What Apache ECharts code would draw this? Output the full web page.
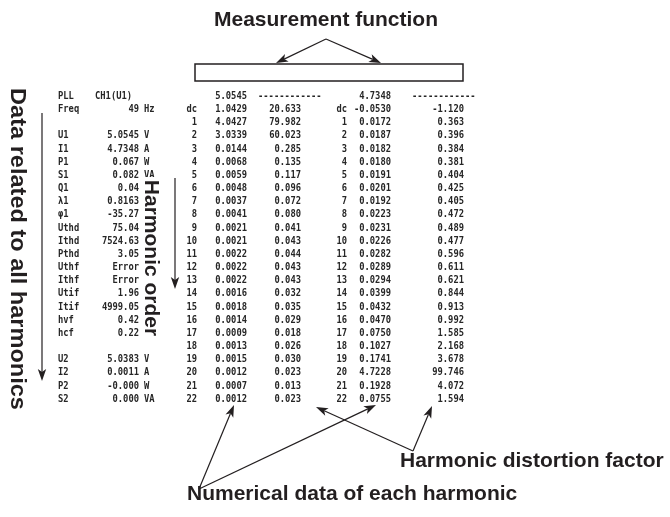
<!DOCTYPE html>
<html>
<head>
<meta charset="utf-8">
<script src="https://cdn.jsdelivr.net/npm/echarts/dist/echarts.min.js"></script>
<style>
html,body{margin:0;padding:0;background:#fff;}
#chart{width:670px;height:517px;}
</style>
</head>
<body>
<div id="chart"></div>
<script>
// ---------- data ----------
var harmonicOrders = ['dc',1,2,3,4,5,6,7,8,9,10,11,12,13,14,15,16,17,18,19,20,21,22];
var voltageValues = [1.0429,4.0427,3.0339,0.0144,0.0068,0.0059,0.0048,0.0037,0.0041,0.0021,0.0021,0.0022,0.0022,0.0022,0.0016,0.0018,0.0014,0.0009,0.0013,0.0015,0.0012,0.0007,0.0012];
var voltageDistortion = [20.633,79.982,60.023,0.285,0.135,0.117,0.096,0.072,0.080,0.041,0.043,0.044,0.043,0.043,0.032,0.035,0.029,0.018,0.026,0.030,0.023,0.013,0.023];
var currentValues = [-0.0530,0.0172,0.0187,0.0182,0.0180,0.0191,0.0201,0.0192,0.0223,0.0231,0.0226,0.0282,0.0289,0.0294,0.0399,0.0432,0.0470,0.0750,0.1027,0.1741,4.7228,0.1928,0.0755];
var currentDistortion = [-1.120,0.363,0.396,0.384,0.381,0.404,0.425,0.405,0.472,0.489,0.477,0.596,0.611,0.621,0.844,0.913,0.992,1.585,2.168,3.678,99.746,4.072,1.594];
var totalVoltage = 5.0545;
var totalCurrent = 4.7348;
var channelLabel = 'CH1(U1)';
var leftLabels = ['PLL','Freq','','U1','I1','P1','S1','Q1','λ1','φ1','Uthd','Ithd','Pthd','Uthf','Ithf','Utif','Itif','hvf','hcf','','U2','I2','P2','S2'];
var leftValues = ['','49','','5.0545','4.7348','0.067','0.082','0.04','0.8163','-35.27','75.04','7524.63','3.05','Error','Error','1.96','4999.05','0.42','0.22','','5.0383','0.0011','-0.000','0.000'];
var leftUnits = ['','Hz','','V','A','W','VA','','','','','','','','','','','','','','V','A','W','VA'];

// ---------- layout ----------
var COL = {label:58, chLeft:95, valRight:139, unit:144, hRight:197, v1Right:247, v2Right:301, dash1:258, h2Right:347, c1Right:391, c2Right:464, dash2:412};
var INK = '#231f20';
var SCREEN_INK = '#262626';
var MONO_FONT = 'bold 11px "DejaVu Sans Mono", "Liberation Mono", monospace';
var MONO_SCALE = 0.8;
var SANS = '"Liberation Sans", Arial, Helvetica, sans-serif';

var leftCells = [], tableCells = [];
leftCells.push([COL.chLeft,0,channelLabel,'left']);
leftLabels.forEach(function(s,i){ if(s) leftCells.push([COL.label,i,s,'left']); });
leftValues.forEach(function(s,i){ if(s) leftCells.push([COL.valRight,i,s,'right']); });
leftUnits.forEach(function(s,i){ if(s) leftCells.push([COL.unit,i,s,'left']); });
tableCells.push([COL.v1Right,0,totalVoltage.toFixed(4),'right']);
tableCells.push([COL.dash1,0,'------------','left']);
tableCells.push([COL.c1Right,0,totalCurrent.toFixed(4),'right']);
tableCells.push([COL.dash2,0,'------------','left']);
harmonicOrders.forEach(function(h,i){
  var r = i+1;
  tableCells.push([COL.hRight,r,h,'right']);
  tableCells.push([COL.v1Right,r,voltageValues[i].toFixed(4),'right']);
  tableCells.push([COL.v2Right,r,voltageDistortion[i].toFixed(3),'right']);
  tableCells.push([COL.h2Right,r,h,'right']);
  tableCells.push([COL.c1Right,r,currentValues[i].toFixed(4),'right']);
  tableCells.push([COL.c2Right,r,currentDistortion[i].toFixed(3),'right']);
});

function textSeries(name, list){
  return {
    type:'custom', name:name, silent:true,
    data:list.map(function(c){return [c[0], c[1]];}),
    encode:{x:0, y:1},
    renderItem:function(params, api){
      var c = list[params.dataIndex];
      var p = api.coord([api.value(0), api.value(1)]);
      return {type:'text', x:p[0], y:p[1], scaleX:MONO_SCALE,
        style:{text:String(c[2]), x:0, y:0, font:MONO_FONT, fill:SCREEN_INK,
          align:c[3], verticalAlign:'middle'}};
    }
  };
}

// ---------- annotation helpers ----------
function arrow(x1,y1,x2,y2){
  var dx=x2-x1, dy=y2-y1, L=Math.sqrt(dx*dx+dy*dy), ux=dx/L, uy=dy/L;
  var hl=12, hw=4.2, notch=3;
  var bx=x2-ux*hl, by=y2-uy*hl;
  var nx=x2-ux*(hl-notch), ny=y2-uy*(hl-notch);
  return [
    {type:'line', z:120, shape:{x1:x1,y1:y1,x2:nx,y2:ny}, style:{stroke:INK, lineWidth:1.2}},
    {type:'polygon', z:120, shape:{points:[[x2,y2],[bx-uy*hw,by+ux*hw],[nx,ny],[bx+uy*hw,by-ux*hw]]}, style:{fill:INK}}
  ];
}
function label(x,y,text,size,rot,align,sx){
  return {type:'text', z:110, x:x, y:y, rotation:rot||0, scaleX:sx||1,
    style:{text:text, x:0, y:0, fill:INK, font:'bold '+size+'px '+SANS, align:align||'center', verticalAlign:'middle'}};
}

var graphics = [];
graphics.push(label(326,20,'Measurement function',21));
graphics = graphics.concat(arrow(326,39,276,63), arrow(326,39,381,63));
graphics.push({type:'rect', z:100, shape:{x:195,y:64,width:268,height:17}, style:{fill:'#fff', stroke:INK, lineWidth:1.5}});
graphics.push(label(17,249,'Data related to all harmonics',22,-Math.PI/2,'center',1.07));
graphics = graphics.concat(arrow(42,113,42,381));
graphics.push({type:'rect', z:105, shape:{x:140,y:177,width:21,height:163}, style:{fill:'#fff'}});
graphics.push(label(151,258,'Harmonic order',21,-Math.PI/2));
graphics = graphics.concat(arrow(175,178,175,289));
graphics = graphics.concat(arrow(199,489,234,405), arrow(199,489,376,405), arrow(413,451,316,407), arrow(413,451,432,406));
graphics.push(label(400,461,'Harmonic distortion factor',21,0,'left'));
graphics.push(label(187,494,'Numerical data of each harmonic',21,0,'left'));

var chart = echarts.init(document.getElementById('chart'), null, {renderer:'canvas'});
chart.setOption({
  animation:false,
  backgroundColor:'#fff',
  grid:{left:0, right:0, top:89.4, bottom:111.5},
  xAxis:{type:'value', min:0, max:670, show:false},
  yAxis:{type:'value', min:-0.5, max:23.5, inverse:true, show:false},
  series:[textSeries('left',leftCells), textSeries('table',tableCells)],
  graphic:{elements:graphics}
});
</script>
</body>
</html>
